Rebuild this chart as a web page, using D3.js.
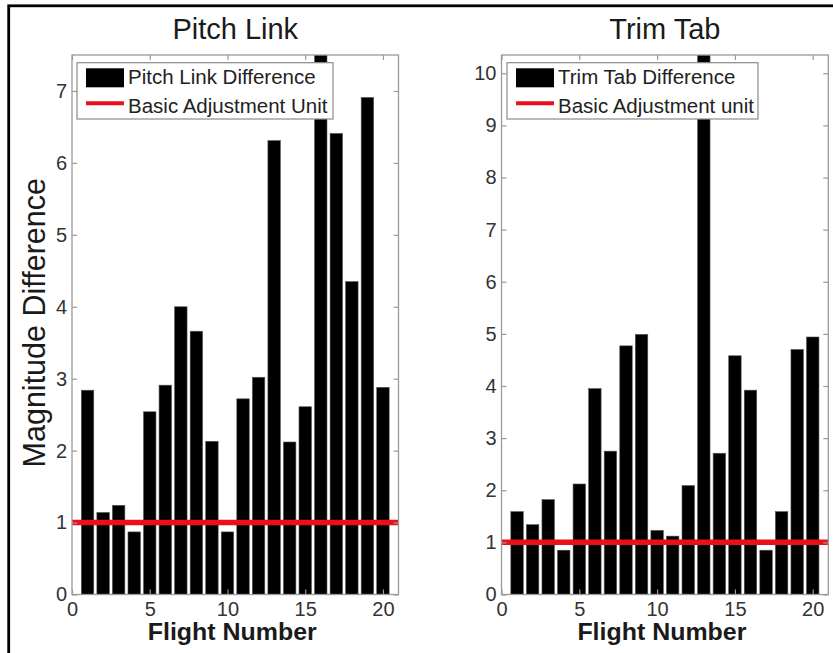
<!DOCTYPE html>
<html>
<head>
<meta charset="utf-8">
<script src="https://cdn.jsdelivr.net/npm/d3@7"></script>
<style>
  body { margin: 0; background: #fff; }
  svg { display: block; }
</style>
</head>
<body>
<div id="chart"></div>
<script>
// flight numbers and the two measured series
const FLIGHTS = [1, 2, 3, 4, 5, 6, 7, 8, 9, 10, 11, 12, 13, 14, 15, 16, 17, 18, 19, 20];
const PITCH_LINK_DIFF = [2.84, 1.14, 1.24, 0.87, 2.54, 2.91, 4.0, 3.66, 2.13, 0.87,
  2.72, 3.02, 6.31, 2.12, 2.61, 7.5, 6.41, 4.35, 6.91, 2.88];
const TRIM_TAB_DIFF = [1.59, 1.34, 1.82, 0.85, 2.12, 3.95, 2.75, 4.77, 4.99, 1.23,
  1.12, 2.09, 10.35, 2.71, 4.58, 3.92, 0.85, 1.59, 4.7, 4.94];
const BASIC_UNIT = 1;

const X_TICKS = [0, 5, 10, 15, 20];
const PITCH_Y_TICKS = [0, 1, 2, 3, 4, 5, 6, 7];
const TRIM_Y_TICKS = [0, 1, 2, 3, 4, 5, 6, 7, 8, 9, 10];

const FONT = '"Liberation Sans", Arial, Helvetica, sans-serif';
const W = 833, H = 653;
const TOP = 55, BOTTOM = 594.5;
const AXIS_GREY = '#9a9a9a';
const TEXT_GREY = '#333';
const RED = '#e8101a';

const panels = [
  {
    id: 'pitch', title: 'Pitch Link', values: PITCH_LINK_DIFF, yMax: 7.5, yTicks: PITCH_Y_TICKS,
    left: 72, right: 398.5, barLabel: 'Pitch Link Difference', lineLabel: 'Basic Adjustment Unit',
    legendX: 77, legendW: 256, yLabel: 'Magnitude Difference'
  },
  {
    id: 'trim', title: 'Trim Tab', values: TRIM_TAB_DIFF, yMax: 10.35, yTicks: TRIM_Y_TICKS,
    left: 501.5, right: 828.3, barLabel: 'Trim Tab Difference', lineLabel: 'Basic Adjustment unit',
    legendX: 507, legendW: 251, yLabel: null
  }
];

const svg = d3.select('#chart')
  .append('svg')
  .attr('width', W)
  .attr('height', H)
  .style('font-family', FONT);

// outer frame (runs off the right and bottom edges)
svg.append('rect')
  .attr('x', 8.7)
  .attr('y', 5.8)
  .attr('width', W + 20)
  .attr('height', H + 20)
  .attr('fill', 'none')
  .attr('stroke', '#000')
  .attr('stroke-width', 2.8);

const defs = svg.append('defs');

panels.forEach(p => {
  const x = d3.scaleLinear().domain([0, 21]).range([p.left, p.right]);
  const y = d3.scaleLinear().domain([0, p.yMax]).range([BOTTOM, TOP]);
  const bw = (x(1) - x(0)) * 0.8;

  defs.append('clipPath').attr('id', `clip-${p.id}`)
    .append('rect')
    .attr('x', p.left).attr('y', TOP)
    .attr('width', p.right - p.left).attr('height', BOTTOM - TOP);

  const g = svg.append('g');
  const plot = g.append('g').attr('clip-path', `url(#clip-${p.id})`);

  plot.selectAll('rect.bar')
    .data(FLIGHTS.map((f, i) => ({ f, v: p.values[i] })))
    .join('rect')
    .attr('class', 'bar')
    .attr('x', d => x(d.f) - bw / 2)
    .attr('width', bw)
    .attr('y', d => y(d.v))
    .attr('height', d => y(0) - y(d.v))
    .attr('fill', '#000')
    .attr('stroke', '#555')
    .attr('stroke-width', 0.6);

  plot.append('line')
    .attr('x1', p.left).attr('x2', p.right)
    .attr('y1', y(BASIC_UNIT)).attr('y2', y(BASIC_UNIT))
    .attr('stroke', RED)
    .attr('stroke-width', 5.5);

  // axes, ticks pointing inward on all four sides
  const styleAxis = sel => {
    sel.select('.domain').remove();
    sel.selectAll('.tick line').attr('stroke', AXIS_GREY).attr('stroke-width', 1.2);
    sel.selectAll('.tick text')
      .attr('fill', TEXT_GREY)
      .attr('font-size', '20px')
      .attr('font-family', FONT);
  };

  g.append('g')
    .attr('transform', `translate(0,${BOTTOM})`)
    .call(d3.axisBottom(x).tickValues(X_TICKS).tickSize(-5).tickPadding(7))
    .call(styleAxis);
  g.append('g')
    .attr('transform', `translate(0,${TOP})`)
    .call(d3.axisTop(x).tickValues(X_TICKS).tickSize(-5).tickFormat(''))
    .call(styleAxis);
  g.append('g')
    .attr('transform', `translate(${p.left},0)`)
    .call(d3.axisLeft(y).tickValues(p.yTicks).tickSize(-5).tickPadding(5))
    .call(styleAxis);
  g.append('g')
    .attr('transform', `translate(${p.right},0)`)
    .call(d3.axisRight(y).tickValues(p.yTicks).tickSize(-5).tickFormat(''))
    .call(styleAxis);

  g.append('rect')
    .attr('x', p.left).attr('y', TOP)
    .attr('width', p.right - p.left).attr('height', BOTTOM - TOP)
    .attr('fill', 'none')
    .attr('stroke', AXIS_GREY)
    .attr('stroke-width', 1.3);

  // legend
  const lg = g.append('g').attr('transform', `translate(${p.legendX},62.7)`);
  lg.append('rect')
    .attr('width', p.legendW).attr('height', 56.3)
    .attr('fill', '#fff')
    .attr('stroke', '#8a8a8a')
    .attr('stroke-width', 1.2);
  lg.append('rect')
    .attr('x', 9).attr('y', 5.6)
    .attr('width', 38).attr('height', 19)
    .attr('fill', '#000');
  lg.append('line')
    .attr('x1', 9).attr('x2', 47)
    .attr('y1', 40.6).attr('y2', 40.6)
    .attr('stroke', RED)
    .attr('stroke-width', 4);
  lg.append('text')
    .attr('x', 51).attr('y', 21.8)
    .attr('font-size', '20.5px')
    .attr('fill', '#222')
    .text(p.barLabel);
  lg.append('text')
    .attr('x', 51).attr('y', 50.6)
    .attr('font-size', '20.5px')
    .attr('fill', '#222')
    .text(p.lineLabel);

  // titles and labels
  const cx = (p.left + p.right) / 2;
  g.append('text')
    .attr('x', cx).attr('y', 39)
    .attr('text-anchor', 'middle')
    .attr('font-size', '29px')
    .attr('fill', '#1a1a1a')
    .text(p.title);

  g.append('text')
    .attr('x', cx - 3).attr('y', 640)
    .attr('text-anchor', 'middle')
    .attr('font-size', '23px')
    .attr('font-weight', 'bold')
    .attr('fill', '#1a1a1a')
    .attr('textLength', 169)
    .attr('lengthAdjust', 'spacingAndGlyphs')
    .text('Flight Number');

  if (p.yLabel) {
    g.append('text')
      .attr('transform', `translate(45,${(TOP + BOTTOM) / 2 - 2}) rotate(-90)`)
      .attr('text-anchor', 'middle')
      .attr('font-size', '30.5px')
      .attr('fill', '#1a1a1a')
      .text(p.yLabel);
  }
});
</script>
</body>
</html>
